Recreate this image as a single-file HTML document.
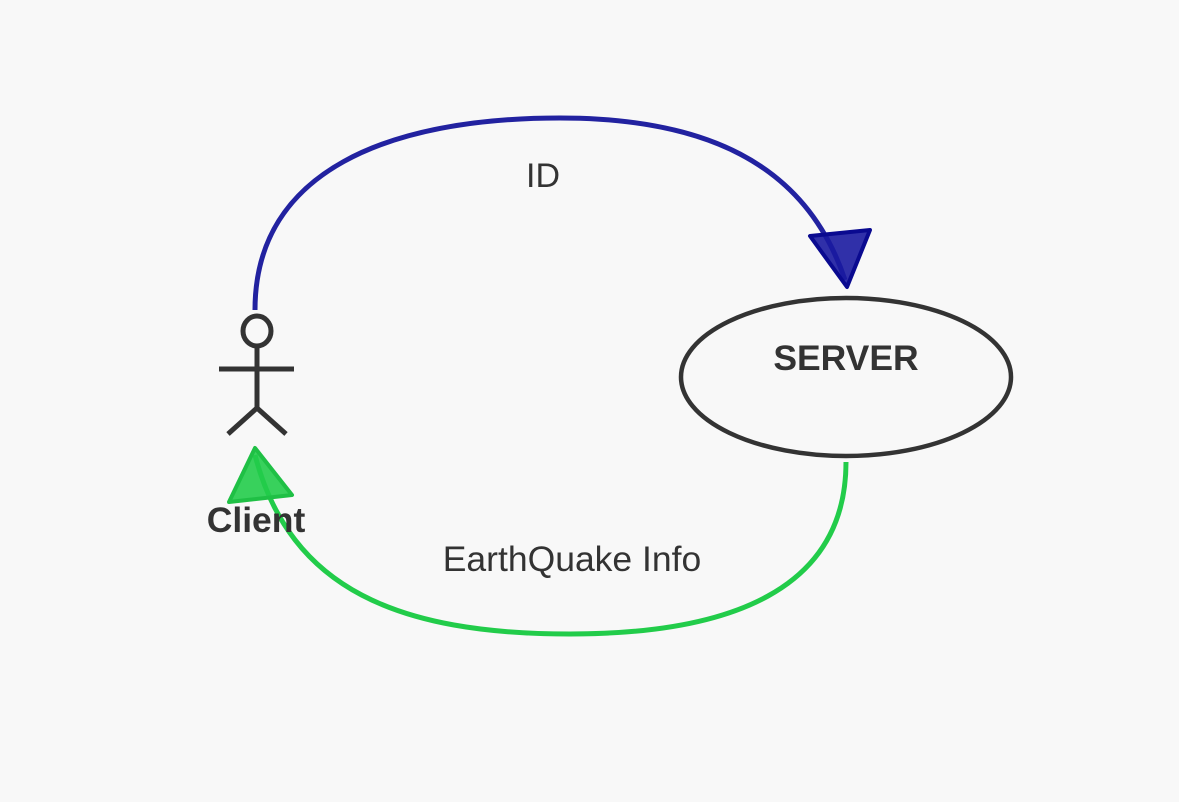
<!DOCTYPE html>
<html><head><style>
html,body{margin:0;padding:0;background:#f8f8f8;}
svg{display:block;}
text{font-family:"Liberation Sans",sans-serif;fill:#333;}
</style></head><body>
<svg width="1179" height="802" viewBox="0 0 1179 802">
<rect width="1179" height="802" fill="#f8f8f8"/>
<path d="M255,310 C255,170 390,118 560,118 C700,118 805,160 845,280" fill="none" stroke="#2222a0" stroke-width="5"/>
<polygon points="810,236 870,230 847,287" fill="#1a1aa0" fill-opacity="0.9" stroke="#0a0a90" stroke-width="4" stroke-linejoin="round"/>
<path d="M846,462 C846,590 730,634 570,634 C400,634 290,590 255,455" fill="none" stroke="#22cc4a" stroke-width="5"/>
<polygon points="255,448 292,495 229,502" fill="#22cc4a" fill-opacity="0.9" stroke="#1fc045" stroke-width="4" stroke-linejoin="round"/>
<ellipse cx="846" cy="377" rx="165" ry="79" fill="none" stroke="#333" stroke-width="4.5"/>
<g stroke="#333" stroke-width="5" fill="none">
<ellipse cx="257" cy="331" rx="14" ry="15"/>
<line x1="257" y1="346" x2="257" y2="408"/>
<line x1="219" y1="369" x2="294" y2="369"/>
<line x1="257" y1="408" x2="228" y2="434"/>
<line x1="257" y1="408" x2="286" y2="434"/>
</g>
<text x="543" y="187" font-size="34" text-anchor="middle">ID</text>
<text x="846" y="370" font-size="35.5" font-weight="bold" text-anchor="middle">SERVER</text>
<text x="256" y="532" font-size="35.5" font-weight="bold" text-anchor="middle">Client</text>
<text x="572" y="571" font-size="35.5" text-anchor="middle">EarthQuake Info</text>
</svg>
</body></html>
